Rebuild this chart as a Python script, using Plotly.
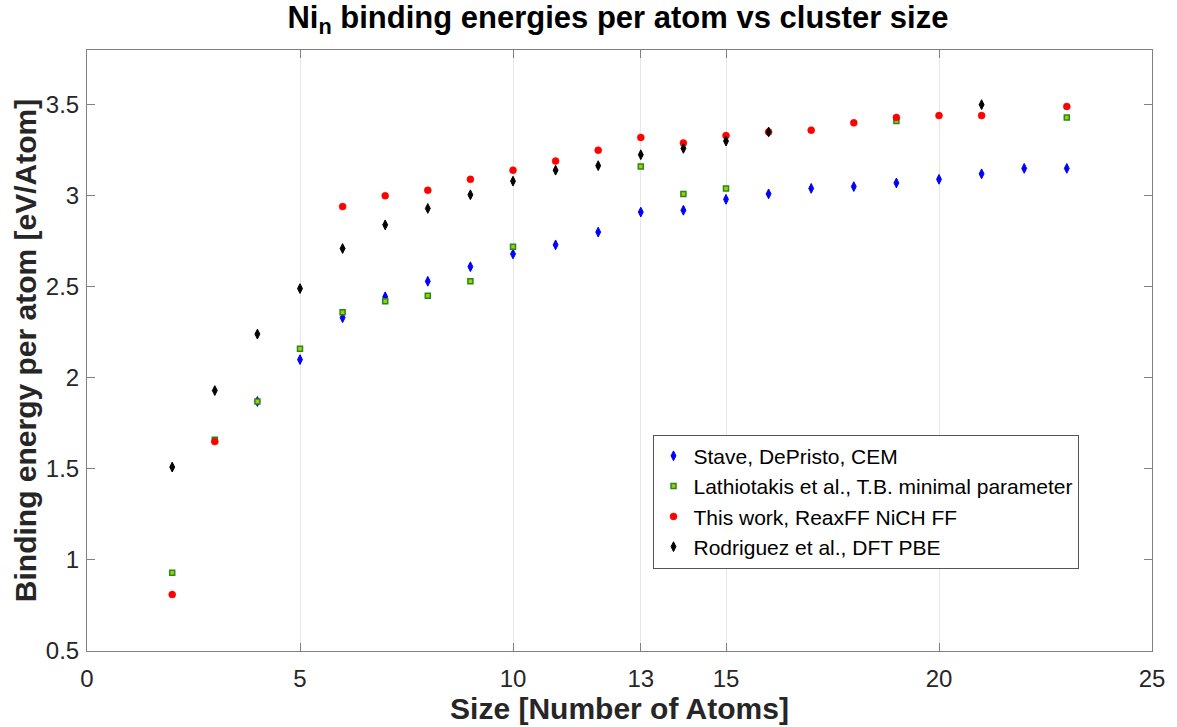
import plotly.graph_objects as go

# Data
stave_x = [4, 5, 6, 7, 8, 9, 10, 11, 12, 13, 14, 15, 16, 17, 18, 19, 20, 21, 22, 23]
stave_y = [1.87, 2.10, 2.33, 2.445, 2.53, 2.61, 2.68, 2.73, 2.80, 2.91, 2.92, 2.98, 3.01, 3.04, 3.05, 3.07, 3.09, 3.12, 3.15, 3.15]

lath_x = [2, 3, 4, 5, 6, 7, 8, 9, 10, 13, 14, 15, 19, 23]
lath_y = [0.93, 1.66, 1.87, 2.16, 2.36, 2.42, 2.45, 2.53, 2.72, 3.16, 3.01, 3.04, 3.41, 3.43]

reax_x = [2, 3, 6, 7, 8, 9, 10, 11, 12, 13, 14, 15, 16, 17, 18, 19, 20, 21, 23]
reax_y = [0.81, 1.65, 2.94, 3.0, 3.03, 3.09, 3.14, 3.19, 3.25, 3.32, 3.29, 3.33, 3.35, 3.36, 3.40, 3.43, 3.44, 3.44, 3.49]

rodr_x = [2, 3, 4, 5, 6, 7, 8, 9, 10, 11, 12, 13, 14, 15, 16, 21]
rodr_y = [1.51, 1.93, 2.24, 2.49, 2.71, 2.84, 2.93, 3.005, 3.08, 3.14, 3.165, 3.225, 3.26, 3.30, 3.35, 3.50]

x_ticks = [0, 5, 10, 13, 15, 20, 25]
y_ticks = [0.5, 1, 1.5, 2, 2.5, 3, 3.5]
y_tick_labels = ["0.5", "1", "1.5", "2", "2.5", "3", "3.5"]

FONT = "Liberation Sans, Arial, Helvetica, sans-serif"

fig = go.Figure()
fig.add_trace(go.Scatter(x=stave_x, y=stave_y, mode="markers", name="Stave, DePristo, CEM",
                         marker=dict(symbol="diamond-tall", size=7, color="#0000ff",
                                     line=dict(color="#0000ff", width=1))))
fig.add_trace(go.Scatter(x=lath_x, y=lath_y, mode="markers", name="Lathiotakis et al., T.B. minimal parameter",
                         marker=dict(symbol="square", size=5, color="#b8c400",
                                     line=dict(color="#1e8c1e", width=1.5))))
fig.add_trace(go.Scatter(x=reax_x, y=reax_y, mode="markers", name="This work, ReaxFF NiCH FF",
                         marker=dict(symbol="circle", size=7, color="#ff0000",
                                     line=dict(color="#ff0000", width=0.5))))
fig.add_trace(go.Scatter(x=rodr_x, y=rodr_y, mode="markers", name="Rodriguez et al., DFT PBE",
                         marker=dict(symbol="diamond-tall", size=7, color="#000000",
                                     line=dict(color="#000000", width=1))))

fig.update_layout(
    width=1177, height=727,
    margin=dict(l=87, r=25, t=50, b=76),
    paper_bgcolor="white", plot_bgcolor="white",
    font=dict(family=FONT, color="#262626"),
    title=dict(text="<b>Ni<sub>n</sub> binding energies per atom vs cluster size</b>",
               x=0.525, xanchor="center", y=0.992, yanchor="top",
               font=dict(size=31, color="#000000")),
    showlegend=True,
    legend=dict(x=0.531, y=0.36, xanchor="left", yanchor="top",
                bgcolor="white", bordercolor="#555555", borderwidth=1,
                font=dict(size=21, color="#000000"), tracegroupgap=0,
                itemwidth=30),
)
fig.update_xaxes(range=[0, 25], tickvals=x_ticks, ticktext=[str(v) for v in x_ticks],
                 showgrid=True, gridcolor="#e6e6e6", gridwidth=1,
                 showline=True, linecolor="#808080", linewidth=1, mirror="allticks",
                 ticks="inside", ticklen=8, tickcolor="#808080", ticklabelstandoff=6,
                 tickfont=dict(size=24, color="#262626"), zeroline=False,
                 title=dict(text="<b>Size [Number of Atoms]</b>", font=dict(size=30, color="#262626"), standoff=0))
fig.update_yaxes(range=[0.5, 3.8], tickvals=y_ticks, ticktext=y_tick_labels,
                 showgrid=False,
                 showline=True, linecolor="#808080", linewidth=1, mirror="allticks",
                 ticks="inside", ticklen=8, tickcolor="#808080", ticklabelstandoff=2,
                 tickfont=dict(size=24, color="#262626"), zeroline=False,
                 title=dict(text="<b>Binding energy per atom [eV/Atom]</b>", font=dict(size=30, color="#262626"), standoff=0))

fig.write_html("out.html")
